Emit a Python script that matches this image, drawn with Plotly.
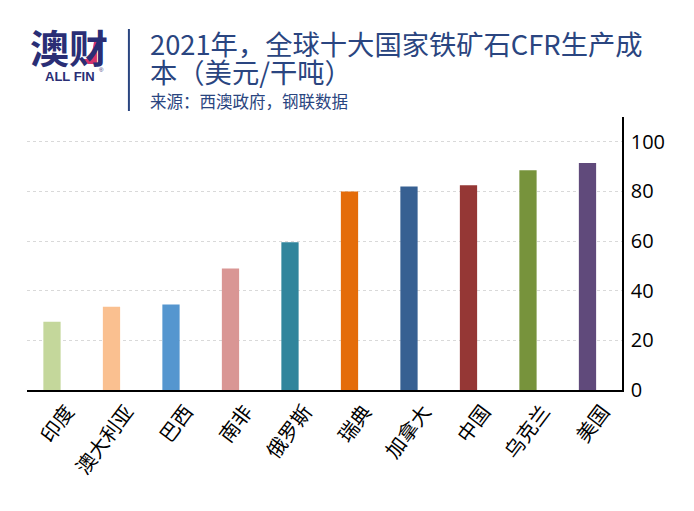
import plotly.graph_objects as go

# data
countries = ['印度', '澳大利亚', '巴西', '南非', '俄罗斯', '瑞典', '加拿大', '中国', '乌克兰', '美国']
costs = [27.5, 33.5, 34.5, 49, 59.5, 80, 82, 82.5, 88.5, 91.5]
bar_colors = ['#C4D79B', '#FAC090', '#5596CF', '#D99694', '#31859C',
              '#E46C0A', '#376092', '#953735', '#77933C', '#604A7B']
y_ticks = [0, 20, 40, 60, 80, 100]

# full-width punctuation written as escapes: \uff0c comma, \uff08 \uff09 brackets, \uff1a colon
title_lines = ['2021年\uff0c全球十大国家铁矿石CFR生产成', '本\uff08美元/干吨\uff09']
source_text = '来源\uff1a西澳政府\uff0c钢联数据'

# the page body adds 8px around the figure
W, H = 678, 495
LEFT, TOP, PLOT_W, PLOT_H = 27, 117, 595.5, 273
NAVY = '#2A4580'
LOGO = '#2A2E75'
CJK = 'Noto Sans CJK SC'


def px_x(x):
    return (x - LEFT) / PLOT_W


def px_y(y):
    return (TOP + PLOT_H - y) / PLOT_H


def label(text, x, y, size, family=CJK, anchor='left', color=NAVY):
    fig.add_annotation(text=text, x=px_x(x), y=px_y(y), xref='paper', yref='paper',
                       xanchor=anchor, yanchor='middle', align='left', showarrow=False,
                       font=dict(family=family, size=size, color=color))


fig = go.Figure(go.Bar(x=countries, y=costs, marker_color=bar_colors,
                       marker_line_width=0, width=0.29))

fig.update_layout(
    width=W, height=H,
    margin=dict(l=LEFT - 8, r=W - (LEFT - 8 + PLOT_W), t=TOP - 8, b=H - (TOP - 8 + PLOT_H)),
    paper_bgcolor='white', plot_bgcolor='white',
    showlegend=False,
    font=dict(family=CJK, color='black'),
)
fig.update_xaxes(
    range=[-0.42, 9.58], automargin=False,
    tickangle=-53, ticks='', showgrid=False, ticklabelshift=15,
    showline=True, linecolor='black', linewidth=2,
    tickfont=dict(family=CJK, size=20, color='black'),
)
fig.update_yaxes(
    side='right', range=[0, 110], tickvals=y_ticks, ticks='', automargin=False,
    ticklabelstandoff=3,
    showline=True, linecolor='black', linewidth=1.5,
    showgrid=True, gridcolor='#D9D9D9', griddash='dot', gridwidth=1,
    zeroline=False,
    tickfont=dict(family='Open Sans', size=20, color='black'),
)

# title block
label(title_lines[0], 148, 43, 27.3)
label(title_lines[1], 148, 71, 27.3)
label(source_text, 148, 100.5, 16.5)
fig.add_shape(type='line', xref='paper', yref='paper',
              x0=px_x(129), x1=px_x(129), y0=px_y(29), y1=px_y(111),
              line=dict(color=NAVY, width=2))

# logo
label('<b>澳财</b>', 69, 46, 39, anchor='center', color=LOGO)
label('<b>ALL FIN</b>', 70, 76, 13, family='Liberation Sans', anchor='center', color=LOGO)
label('®', 102, 70, 6, family='Liberation Sans', anchor='center', color=LOGO)
logo_pink = [(94, 42), (97, 41), (97, 64), (88, 64), (81, 59), (91, 59)]
path = 'M ' + ' L '.join('{} {}'.format(px_x(x), px_y(y)) for x, y in logo_pink) + ' Z'
fig.add_shape(type='path', xref='paper', yref='paper', path=path,
              fillcolor='#D6336C', line_width=0)

fig.write_html("out.html")
